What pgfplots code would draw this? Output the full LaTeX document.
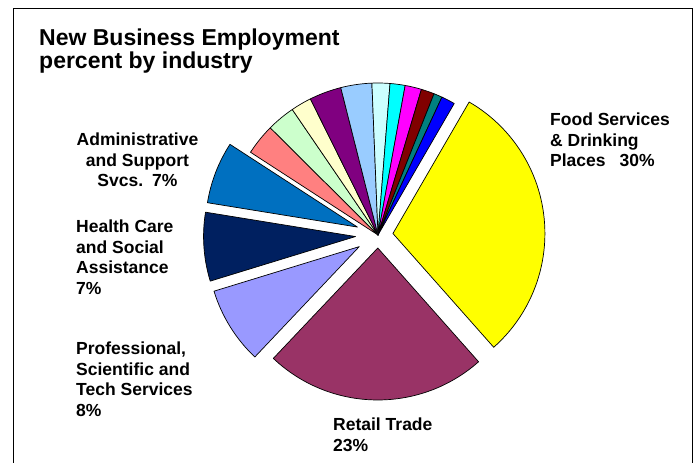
\documentclass[border=0pt]{standalone}
\usepackage{pgfplots}
\pgfplotsset{compat=1.18}
\usepackage{pgfplotstable}
\usepackage{fontspec}
\setmainfont{Liberation Sans}

\definecolor{cFood}{HTML}{FFFF00}
\definecolor{cRetail}{HTML}{993366}
\definecolor{cProf}{HTML}{9999FF}
\definecolor{cHealth}{HTML}{002060}
\definecolor{cAdmin}{HTML}{0070C0}
\definecolor{cPink}{HTML}{FF8080}
\definecolor{cLGreen}{HTML}{CCFFCC}
\definecolor{cLYellow}{HTML}{FFFFCC}
\definecolor{cPurple}{HTML}{800080}
\definecolor{cLBlue}{HTML}{99CCFF}
\definecolor{cPaleCyan}{HTML}{CCFFFF}
\definecolor{cCyan}{HTML}{00FFFF}
\definecolor{cMagenta}{HTML}{FF00FF}
\definecolor{cMaroon}{HTML}{800000}
\definecolor{cTeal}{HTML}{008080}
\definecolor{cBlue}{HTML}{0000FF}

% share in percent, explode offset in pt, colour
\pgfplotstableread{
slice    value explode col
Food     30.1  15      cFood
Retail   23.6  13      cRetail
Prof     8.2   22      cProf
Health   7.3   22.5    cHealth
Admin    6.6   22      cAdmin
Other1   3.3   0       cPink
Other2   3.0   0       cLGreen
Other3   2.2   0       cLYellow
Other4   3.4   0       cPurple
Other5   3.3   0       cLBlue
Other6   1.9   0       cPaleCyan
Other7   1.6   0       cCyan
Other8   1.75  0       cMagenta
Other9   1.4   0       cMaroon
Other10  0.9   0       cTeal
Other11  1.45  0       cBlue
}\pietable

\begin{document}
\begin{tikzpicture}[
  lab/.style={font=\bfseries\fontsize{17.5}{20.5}\selectfont,
    inner sep=0pt, align=left, anchor=north west},
]
\begin{axis}[
  width=694pt, height=463pt, scale only axis,
  xmin=0, xmax=694, ymin=0, ymax=463,
  axis lines=none, clip=true,
]
\path (axis cs:0,0) rectangle (axis cs:694,463);
\draw[line width=0.8pt] (axis cs:13,0) -- (axis cs:13,455)
  -- (axis cs:692,455) -- (axis cs:692,0);

\pgfplotstablegetrowsof{\pietable}
\pgfmathtruncatemacro{\lastrow}{\pgfplotsretval-1}
\xdef\angstart{59.9}
\foreach \i in {0,...,\lastrow}{
  \pgfplotstablegetelem{\i}{value}\of{\pietable}\let\sliceval\pgfplotsretval
  \pgfplotstablegetelem{\i}{explode}\of{\pietable}\let\sliceex\pgfplotsretval
  \pgfplotstablegetelem{\i}{col}\of{\pietable}\let\slicecol\pgfplotsretval
  \pgfmathsetmacro{\angend}{\angstart-\sliceval*3.6}
  \pgfmathsetmacro{\angmid}{(\angstart+\angend)/2}
  \edef\temp{\noexpand\filldraw[fill=\slicecol, draw=black, line width=0.7pt, line join=round]
    (axis cs:378,228) ++(\angmid:\sliceex pt) -- ++(\angstart:152pt)
    arc[start angle=\angstart, end angle=\angend, radius=152pt] -- cycle;}
  \temp
  \xdef\angstart{\angend}
}

\node[lab, font=\bfseries\fontsize{23}{22.5}\selectfont] at (axis cs:39,434)
  {New Business Employment\\percent by industry};
\node[lab] at (axis cs:550,350) {Food Services\\\& Drinking\\Places\hspace{14pt}30\%};
\node[lab, align=center, anchor=north] at (axis cs:137.5,330)
  {Administrative\\and Support\\Svcs.\hspace{9pt}7\%};
\node[lab] at (axis cs:76,243) {Health Care\\and Social\\Assistance\\7\%};
\node[lab] at (axis cs:76,121) {Professional,\\Scientific and\\Tech Services\\8\%};
\node[lab] at (axis cs:333,45) {Retail Trade\\23\%};
\end{axis}
\end{tikzpicture}
\end{document}
